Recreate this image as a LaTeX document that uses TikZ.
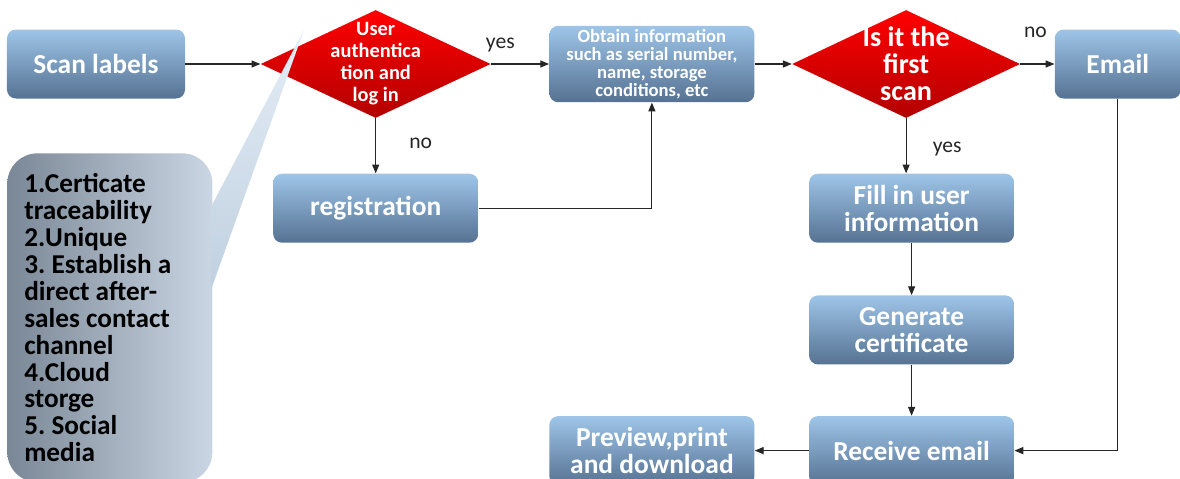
\documentclass[tikz,border=0pt]{standalone}
\usepackage{fontspec}
\setmainfont{Carlito}
\usetikzlibrary{shapes.geometric, arrows.meta, positioning}
\definecolor{blocktop}{RGB}{158,197,232}
\definecolor{blockbot}{RGB}{86,114,146}
\definecolor{diatop}{RGB}{255,0,0}
\definecolor{diabot}{RGB}{178,0,0}
\definecolor{noteleft}{RGB}{122,135,150}
\definecolor{noteright}{RGB}{202,214,227}
\definecolor{wedgetop}{RGB}{228,237,246}
\definecolor{wedgebot}{RGB}{192,208,224}
\frenchspacing
\tikzset{
  block/.style={
    rectangle, rounded corners=5pt,
    minimum width=4.1cm, minimum height=1.38cm,
    align=center, inner sep=2pt,
    top color=blocktop, bottom color=blockbot,
    text=white, font=\bfseries\fontsize{15.6}{15.3}\selectfont
  },
  decision/.style={
    diamond, inner sep=0pt,
    minimum width=4.6cm, minimum height=2.16cm,
    top color=diatop, bottom color=diabot
  },
  dtext/.style={
    align=center, inner sep=0pt, text=white,
    font=\bfseries\fontsize{11.6}{12.5}\selectfont
  },
  notebox/.style={
    rectangle, rounded corners=0.6cm,
    minimum width=4.1cm, minimum height=6.58cm,
    text width=3.42cm, align=flush left, inner xsep=0.34cm,
    left color=noteleft, right color=noteright,
    font=\bfseries\fontsize{15.5}{15.3}\selectfont
  },
  wedge/.style={top color=wedgetop, bottom color=wedgebot},
  tag/.style={inner sep=0pt, font=\fontsize{12.3}{13}\selectfont},
  arrow/.style={-{Triangle[length=5pt, width=4pt]}, black!85, line width=0.6pt}
}
\begin{document}
\begin{tikzpicture}
  \useasboundingbox (0,0) rectangle (23.6,-9.58);

  % top row
  \node[block, minimum width=3.56cm] (scan) at (1.92,-1.28) {Scan labels};
  \node[decision, right=1.5cm of scan] (auth) {};
  \node[dtext] (authtext) at (auth) {User\\authentica\\tion and\\log in};
  \node[block, right=1.16cm of auth, font=\bfseries\fontsize{10.6}{10.2}\selectfont] (obtain)
    {Obtain information\\such as serial number,\\name, storage\\conditions, etc};
  \node[decision, right=0.74cm of obtain, minimum width=4.56cm] (first) {};
  \node[dtext, font=\bfseries\fontsize{16}{15.3}\selectfont] (firsttext) at (first)
    {Is it the\\first\\scan};
  \node[block, right=0.68cm of first, minimum width=2.52cm] (email) {Email};

  % lower part
  \node[block, below=1.1cm of auth] (reg) {registration};
  \node[block, below=1.1cm of first, xshift=0.11cm] (fill) {Fill in user\\information};
  \node[block, below=1.04cm of fill] (gen) {Generate\\certificate};
  \node[block, below=1.02cm of gen] (recv) {Receive email};
  \node[block, left=1.08cm of recv] (preview) {Preview,print\\and download};

  % callout
  \node[notebox, anchor=north west] (note) at (0.14,-3.06)
    {1.Certicate\\traceability\\2.Unique\\3. Establish a\\direct after-\\sales contact\\channel\\4.Cloud\\storge\\5. Social\\media};
  \coordinate (tip) at (6.08,-0.6);
  \shade[wedge] ([xshift=-1pt, yshift=-1.08cm]note.north east) -- (tip)
    -- ([xshift=-1pt, yshift=-2.74cm]note.north east) -- cycle;

  \draw[arrow] (scan) -- (auth);
  \draw[arrow] (auth) -- node[tag, pos=0.16, yshift=0.38cm] (yes1) {yes} (obtain);
  \draw[arrow] (auth) -- node[tag, pos=0.45, xshift=0.9cm] (no1) {no} (reg);
  \draw[arrow] (reg) -| (obtain);
  \draw[arrow] (obtain) -- (first);
  \draw[arrow] (first) -- node[tag, pos=0.44, yshift=0.64cm] (no2) {no} (email);
  \draw[arrow] (first) -- node[tag, pos=0.55, xshift=0.82cm] (yes2) {yes} (first |- fill.north);
  \draw[arrow] (fill) -- (gen);
  \draw[arrow] (gen) -- (recv);
  \draw[arrow] (email) |- (recv);
  \draw[arrow] (recv) -- (preview);

\end{tikzpicture}
\end{document}
